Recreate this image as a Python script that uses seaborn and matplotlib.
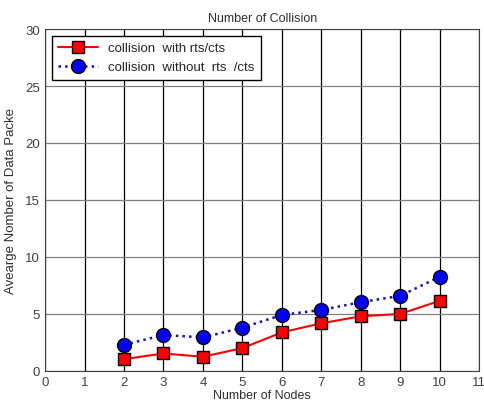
import matplotlib.pyplot as plt
import seaborn as sns
import pandas as pd

nodes = [2, 3, 4, 5, 6, 7, 8, 9, 10]
with_rts = [1.03, 1.53, 1.24, 2.0, 3.38, 4.18, 4.79, 5.0, 6.15]
without_rts = [2.29, 3.15, 2.94, 3.79, 4.91, 5.35, 6.03, 6.59, 8.26]
labels = ['collision  with rts/cts', 'collision  without  rts  /cts']

sns.set_style('white')
plt.rcParams['font.family'] = ['Liberation Sans', 'DejaVu Sans']

df = pd.DataFrame({'nodes': nodes, 'with': with_rts, 'without': without_rts})

fig = plt.figure(figsize=(4.85, 4.06), dpi=100)
ax = fig.add_axes([0.093, 0.084, 0.895, 0.842])

sns.lineplot(data=df, x='nodes', y='with', ax=ax, color='red', lw=1.5,
             marker='s', markersize=8, markerfacecolor='red',
             markeredgecolor='black', markeredgewidth=1, label=labels[0])
sns.lineplot(data=df, x='nodes', y='without', ax=ax, color='#1010c0', lw=1.8,
             linestyle=':', marker='o', markersize=10, markerfacecolor='blue',
             markeredgecolor='black', markeredgewidth=1, label=labels[1])

ax.set_xlim(0, 11)
ax.set_ylim(0, 30)
ax.set_xticks(range(0, 12))
ax.set_yticks(range(0, 31, 5))
ax.xaxis.grid(True, color='black', lw=0.9)
ax.yaxis.grid(True, color='#808080', lw=0.9)
for s in ax.spines.values():
    s.set_color('#404040')
    s.set_linewidth(0.8)
ax.tick_params(labelsize=9.5, colors='#404040', length=3, direction='in')

ax.set_title('Number of Collision', fontsize=9, color='#303030')
ax.set_xlabel('Number of Nodes', fontsize=9, color='#303030', labelpad=1)
ax.set_ylabel('Avearge Nomber of Data Packe', fontsize=9.5, color='#303030',
              labelpad=6)

leg = ax.legend(loc='upper left', fontsize=9.5, frameon=True, fancybox=False,
                borderaxespad=0.5, handlelength=3, borderpad=0.5,
                labelspacing=0.5)
leg.get_frame().set_edgecolor('black')
leg.get_frame().set_alpha(1)

fig.savefig('out.png', dpi=100)
